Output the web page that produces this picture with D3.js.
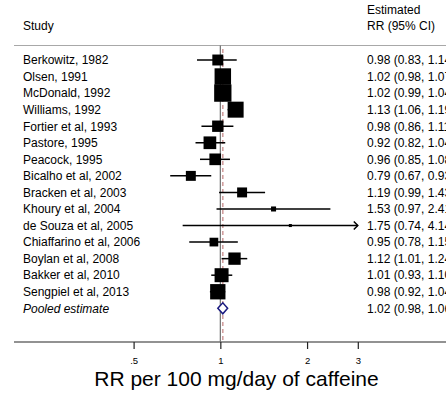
<!DOCTYPE html>
<html>
<head>
<script src="https://cdn.jsdelivr.net/npm/d3@7"></script>
<style>
  body { margin: 0; background: #fff; }
  svg { display: block; font-family: "Liberation Sans", Arial, sans-serif; }
</style>
</head>
<body>
<div id="chart"></div>
<script>
// data
var studies = ['Berkowitz, 1982', 'Olsen, 1991', 'McDonald, 1992', 'Williams, 1992',
  'Fortier et al, 1993', 'Pastore, 1995', 'Peacock, 1995', 'Bicalho et al, 2002',
  'Bracken et al, 2003', 'Khoury et al, 2004', 'de Souza et al, 2005',
  'Chiaffarino et al, 2006', 'Boylan et al, 2008', 'Bakker et al, 2010', 'Sengpiel et al, 2013'];
var rr = [0.98, 1.02, 1.02, 1.13, 0.98, 0.92, 0.96, 0.79, 1.19, 1.53, 1.75, 0.95, 1.12, 1.01, 0.98];
var lo = [0.83, 0.98, 0.99, 1.06, 0.86, 0.82, 0.85, 0.67, 0.99, 0.97, 0.74, 0.78, 1.01, 0.93, 0.92];
var hi = [1.14, 1.07, 1.04, 1.19, 1.11, 1.04, 1.08, 0.93, 1.43, 2.41, 4.14, 1.15, 1.24, 1.10, 1.04];
var weights = [5.2, 11.8, 13.0, 11.1, 5.6, 7.0, 5.9, 4.3, 4.3, 1.1, 0.4, 3.3, 6.6, 8.5, 10.2];
var pooled = { label: 'Pooled estimate', rr: 1.02, lo: 0.98, hi: 1.06 };
var tickValues = [0.5, 1, 2, 3];
var tickLabels = ['.5', '1', '2', '3'];

var width = 446, height = 396;
var svg = d3.select('#chart').append('svg')
  .attr('width', width).attr('height', height);

var x = d3.scaleLog().domain([0.5, 3]).range([133.6, 357.8]);
var rows = studies.concat([pooled.label]);
var y = d3.scalePoint().domain(rows).range([60, 308.3]);
var size = d3.scaleSqrt().domain([0, 13]).range([0, 17.3]);
var fmt = d3.format('.2f');

var axisY = 342, topY = 45.5;

// header
svg.append('text').attr('x', 23).attr('y', 30).attr('font-size', 12).text('Study');
svg.append('text').attr('x', 367).attr('y', 14).attr('font-size', 12).text('Estimated');
svg.append('text').attr('x', 367).attr('y', 30).attr('font-size', 12).text('RR (95% CI)');
svg.append('line').attr('x1', 14).attr('x2', width).attr('y1', topY).attr('y2', topY)
  .attr('stroke', '#a8a8a8').attr('stroke-width', 1);

// null line and pooled line
svg.append('line').attr('x1', x(1)).attr('x2', x(1)).attr('y1', topY).attr('y2', axisY)
  .attr('stroke', '#6e6e6e').attr('stroke-width', 1.2);
svg.append('line').attr('x1', x(pooled.rr)).attr('x2', x(pooled.rr)).attr('y1', 49).attr('y2', axisY)
  .attr('stroke', '#cf9a9a').attr('stroke-width', 1.5).attr('stroke-dasharray', '4,3');

// studies
var data = studies.map(function (s, i) {
  return { label: s, rr: rr[i], lo: lo[i], hi: hi[i], w: weights[i] };
});
var xmax = x.domain()[1];

var g = svg.selectAll('.study').data(data).enter().append('g').attr('class', 'study');
g.append('line')
  .attr('x1', function (d) { return x(d.lo); })
  .attr('x2', function (d) { return x(Math.min(d.hi, xmax)); })
  .attr('y1', function (d) { return y(d.label); })
  .attr('y2', function (d) { return y(d.label); })
  .attr('stroke', '#000').attr('stroke-width', 1.5);
g.append('rect')
  .attr('x', function (d) { return x(d.rr) - size(d.w) / 2; })
  .attr('y', function (d) { return y(d.label) - size(d.w) / 2; })
  .attr('width', function (d) { return size(d.w); })
  .attr('height', function (d) { return size(d.w); })
  .attr('fill', '#000');
// arrows for truncated CIs
g.filter(function (d) { return d.hi > xmax; }).append('path')
  .attr('d', function (d) {
    var ax = x(xmax), ay = y(d.label);
    return 'M' + (ax - 4) + ',' + (ay - 4) + 'L' + ax + ',' + ay + 'L' + (ax - 4) + ',' + (ay + 4);
  })
  .attr('fill', 'none').attr('stroke', '#000').attr('stroke-width', 1.5);
g.append('text').attr('x', 23).attr('y', function (d) { return y(d.label) + 4.3; })
  .attr('font-size', 12).text(function (d) { return d.label; });
g.append('text').attr('x', 367).attr('y', function (d) { return y(d.label) + 4.3; })
  .attr('font-size', 12)
  .text(function (d) { return fmt(d.rr) + ' (' + fmt(d.lo) + ', ' + fmt(d.hi) + ')'; });

// pooled diamond
var py = y(pooled.label);
svg.append('path')
  .attr('d', 'M' + x(pooled.lo) + ',' + py + 'L' + x(pooled.rr) + ',' + (py - 5.5) +
    'L' + x(pooled.hi) + ',' + py + 'L' + x(pooled.rr) + ',' + (py + 5.5) + 'Z')
  .attr('fill', '#fff').attr('stroke', '#1a1a80').attr('stroke-width', 1.5);
svg.append('text').attr('x', 23).attr('y', py + 4.3).attr('font-size', 12)
  .attr('font-style', 'italic').text(pooled.label);
svg.append('text').attr('x', 367).attr('y', py + 4.3).attr('font-size', 12)
  .text(fmt(pooled.rr) + ' (' + fmt(pooled.lo) + ', ' + fmt(pooled.hi) + ')');

// x axis
var axis = svg.append('g').attr('transform', 'translate(0,' + axisY + ')')
  .call(d3.axisBottom(x).tickValues(tickValues)
    .tickFormat(function (d, i) { return tickLabels[i]; })
    .tickSize(7).tickPadding(8));
axis.select('.domain').remove();
axis.insert('line', ':first-child').attr('x1', 14).attr('x2', width)
  .attr('stroke', '#6e6e6e').attr('stroke-width', 1.5);
axis.selectAll('.tick line').attr('stroke', '#222').attr('stroke-width', 1.2);
axis.selectAll('.tick text').attr('font-size', 9.5).attr('fill', '#000')
  .attr('font-family', '"Liberation Sans", Arial, sans-serif');

svg.append('text').attr('x', 236.5).attr('y', 386).attr('text-anchor', 'middle')
  .attr('font-size', 21).text('RR per 100 mg/day of caffeine');
</script>
</body>
</html>
